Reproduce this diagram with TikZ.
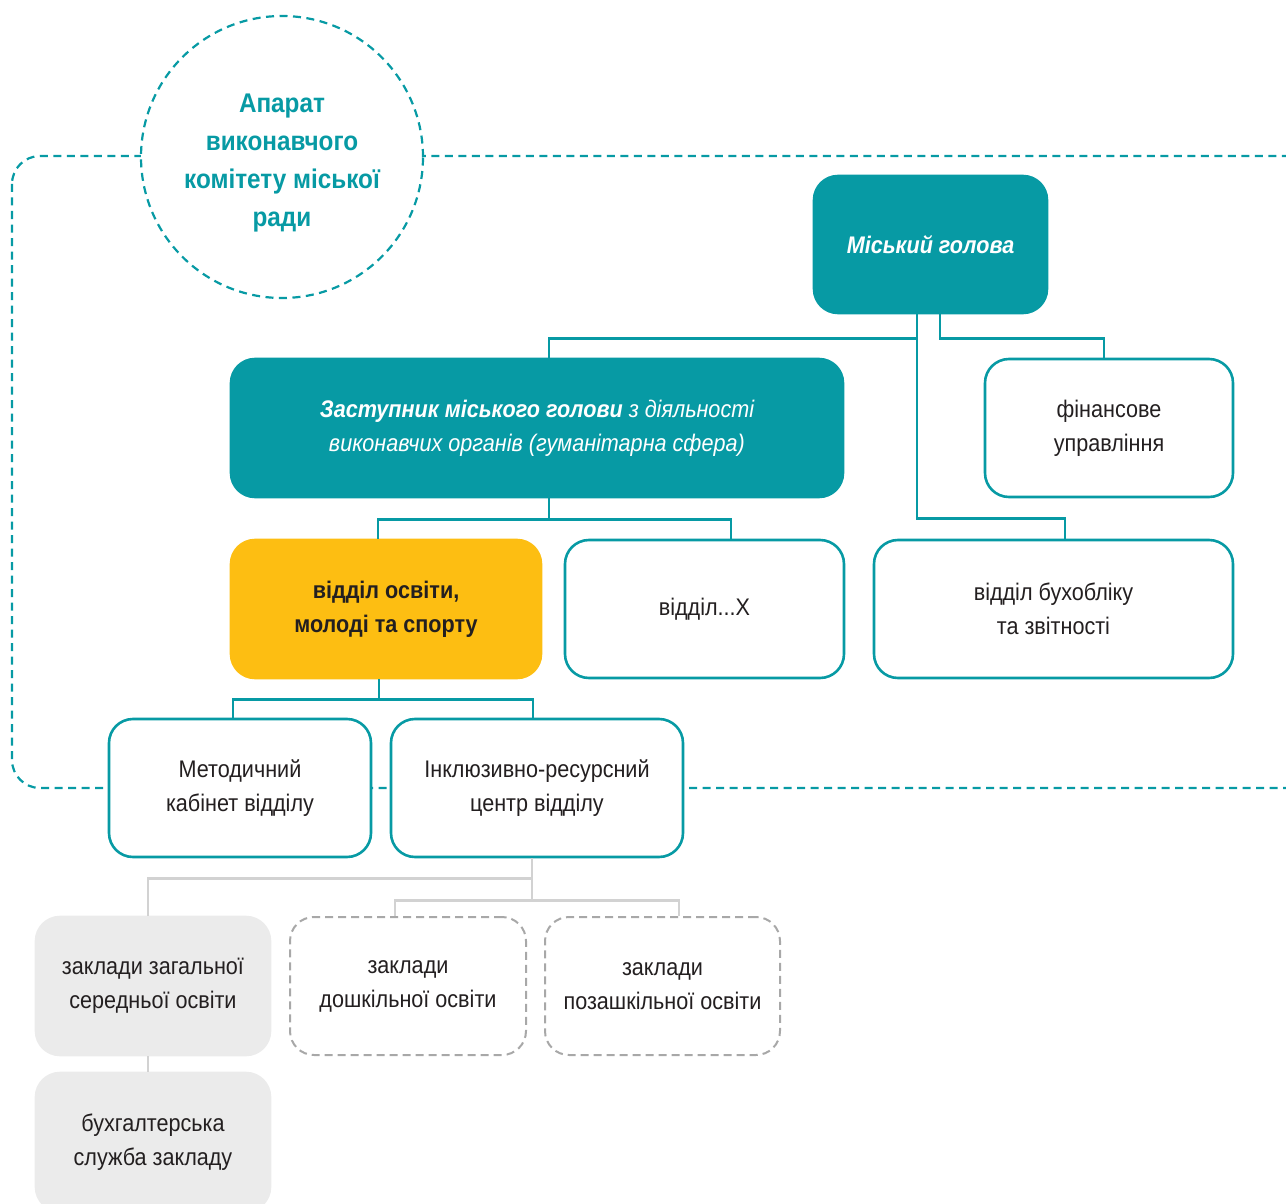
\documentclass[tikz,border=0pt]{standalone}
\usepackage{fontspec}
\setmainfont{Liberation Sans}[FakeStretch=0.9]
\usetikzlibrary{calc}
\definecolor{tealc}{HTML}{079AA4}
\definecolor{yellc}{HTML}{FDBE12}
\definecolor{txtc}{HTML}{231F20}
\definecolor{grayf}{HTML}{EBEBEB}
\definecolor{grayd}{HTML}{A8A8A8}
\definecolor{grayl}{HTML}{D2D2D2}
\begin{document}
\begin{tikzpicture}[x=1pt,y=-1pt,
  box/.style={rectangle, rounded corners=24pt, line width=2.6pt, align=center,
    font=\fontsize{24}{34}\selectfont, text=txtc, inner sep=0pt},
  tealbox/.style={box, fill=tealc, draw=tealc, text=white},
  whitebox/.style={box, fill=white, draw=tealc},
  yellbox/.style={box, fill=yellc, draw=yellc},
  graybox/.style={box, fill=grayf, draw=grayf},
  dashbox/.style={box, fill=white, draw=grayd, line width=2pt, dash pattern=on 8pt off 5pt},
  tline/.style={draw=tealc, line width=2.6pt},
  gline/.style={draw=grayl, line width=2.6pt},
  dline/.style={draw=tealc, line width=2.2pt, dash pattern=on 8pt off 5.5pt}]
\useasboundingbox (0,0) rectangle (1286,1204);
\clip (0,0) rectangle (1286,1204);
% big dashed frame
\draw[dline, rounded corners=28pt] (12,156) rectangle (1320,788);
% circle
\node[circle, draw=tealc, fill=white, line width=2.2pt, dash pattern=on 8pt off 5.5pt,
  minimum size=282pt, inner sep=0pt] (circ) at (282,157) {};
\node[align=center, text=tealc, font=\bfseries\fontsize{27}{37.7}\selectfont] (circt) at (282,163)
  {Апарат\\виконавчого\\комітету міської\\ради};
% nodes
\node[tealbox, minimum width=233pt, minimum height=137pt] (mayor) at (930.5,244.5)
  {\bfseries\itshape Міський голова};
\node[tealbox, minimum width=612pt, minimum height=138pt] (dep) at (537,428)
  {\itshape\textbf{Заступник міського голови} з діяльності\\\itshape виконавчих органів (гуманітарна сфера)};
\node[whitebox, minimum width=248pt, minimum height=138pt] (fin) at (1109,428)
  {фінансове\\управління};
\node[yellbox, minimum width=310pt, minimum height=138pt] (osv) at (386,609)
  {\bfseries відділ освіти,\\\bfseries молоді та спорту};
\node[whitebox, minimum width=279pt, minimum height=138pt] (vx) at (704.5,609)
  {відділ...Х};
\node[whitebox, minimum width=359pt, minimum height=138pt] (buh) at (1053.5,609)
  {відділ бухобліку\\та звітності};
\node[whitebox, minimum width=262pt, minimum height=138pt] (met) at (240,788)
  {Методичний\\кабінет відділу};
\node[whitebox, minimum width=292pt, minimum height=138pt] (inc) at (537,788)
  {Інклюзивно-ресурсний\\центр відділу};
\node[graybox, minimum width=234pt, minimum height=138pt] (zag) at (153,986)
  {заклади загальної\\середньої освіти};
\node[dashbox, minimum width=236pt, minimum height=138pt] (dosh) at (408,986)
  {заклади\\дошкільної освіти};
\node[dashbox, minimum width=235pt, minimum height=138pt] (poz) at (662.5,986)
  {заклади\\позашкільної освіти};
\node[graybox, minimum width=234pt, minimum height=138pt] (buhs) at (153,1142)
  {бухгалтерська\\служба закладу};
% connectors teal
\draw[tline] ([xshift=-13.5pt]mayor.south) -- ++(0,24) -| ([xshift=12pt]dep.north);
\draw[tline] ([xshift=-13.5pt]mayor.south) -- ++(0,204) -| ([xshift=11.5pt]buh.north);
\draw[tline] ([xshift=9.5pt]mayor.south) -- ++(0,24) -| ([xshift=-5pt]fin.north);
\draw[tline] ([xshift=12pt]dep.south) -- ++(0,21) -| ([xshift=-8pt]osv.north);
\draw[tline] ([xshift=12pt]dep.south) -- ++(0,21) -| ([xshift=26.5pt]vx.north);
\draw[tline] ([xshift=-7pt]osv.south) -- ++(0,20) -| ([xshift=-7pt]met.north);
\draw[tline] ([xshift=-7pt]osv.south) -- ++(0,20) -| ([xshift=-4pt]inc.north);
% connectors gray
\draw[gline] ([xshift=-5pt]inc.south) -- ++(0,20) -| ([xshift=-5pt]zag.north);
\draw[gline] ([xshift=-5pt]inc.south) -- ++(0,42) -| ([xshift=-13pt]dosh.north);
\draw[gline] ([xshift=-5pt]inc.south) -- ++(0,42) -| ([xshift=16.5pt]poz.north);
\draw[gline] ([xshift=-5pt]zag.south) -- ([xshift=-5pt]buhs.north);
\end{tikzpicture}
\end{document}
